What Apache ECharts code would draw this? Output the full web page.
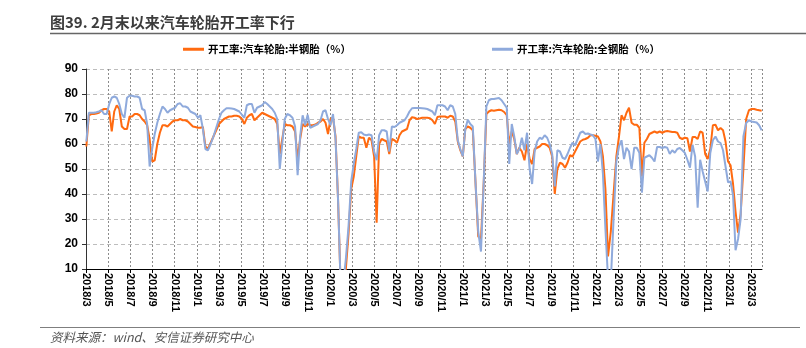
<!DOCTYPE html>
<html>
<head>
<meta charset="utf-8">
<script src="https://cdn.jsdelivr.net/npm/echarts@6/dist/echarts.min.js"></script>
<style>
  html, body { margin: 0; padding: 0; background: #ffffff; }
  #chart { width: 806px; height: 348px; }
</style>
</head>
<body>
<div id="chart"></div>
<script>
// Weekly operating rate of car tyre plants (%), one value per Friday from 2018-03-02.
const firstWeek = '2018-03-02';

// One label every two months, starting at 2018/3
const tickLabels = [
  '2018/3', '2018/5', '2018/7', '2018/9', '2018/11',
  '2019/1', '2019/3', '2019/5', '2019/7', '2019/9', '2019/11',
  '2020/1', '2020/3', '2020/5', '2020/7', '2020/9', '2020/11',
  '2021/1', '2021/3', '2021/5', '2021/7', '2021/9', '2021/11',
  '2022/1', '2022/3', '2022/5', '2022/7', '2022/9', '2022/11',
  '2023/1', '2023/3'
];

const seriesNames = ['开工率:汽车轮胎:半钢胎（%）', '开工率:汽车轮胎:全钢胎（%）'];

// Semi-steel tyres
const semi2018 = [59, 71.5, 72, 72, 72.2, 72.5, 73.5, 74, 74, 73,
  65, 73, 75.5, 74, 67, 66, 66, 71, 71, 72,
  72, 71.5, 70, 69, 67.5, 62, 53, 53.5, 60, 64.5,
  67.5, 67.5, 67, 68, 69, 69.5, 69.5, 70, 69.5, 69.5,
  69, 68, 67, 66.8];
const semi2019 = [66.5, 66.5, 66.8, 59, 58, 60.5, 63, 65.5, 68, 69,
  70, 70.5, 71, 71, 71.3, 71.3, 71, 70, 68, 70.5,
  71.5, 72, 69.5, 70.5, 71.5, 72.5, 72, 71.5, 71, 70.5,
  70, 68, 56, 62, 68, 67.5, 67.5, 67, 65, 54,
  62, 68, 67, 68, 67.5, 67.5, 67.8, 68.5, 69, 70,
  68.5, 64];
const semi2020 = [70, 70.5, 63, 38, 5, 4, 10, 24, 42, 47,
  55, 63, 62.5, 62.5, 58.5, 62.5, 61.5, 55, 28.5, 60,
  62, 61.5, 61, 56, 62, 61.5, 60.5, 63.5, 65, 65.5,
  66, 69.5, 70.7, 70.5, 70, 70.2, 70.5, 70.5, 70.5, 70.3,
  69.5, 68, 70.8, 71, 71, 71, 70.5, 71.3, 71, 69,
  61, 57.5];
const semi2021 = [55, 66, 67, 66.5, 65.5, 45, 23, 22, 45, 72,
  73, 73.5, 73.3, 73.5, 73.7, 73.5, 72.8, 71.5, 60, 65,
  62, 56, 58.5, 57, 53.5, 60, 54, 52, 58, 58.5,
  59, 60, 60, 59.5, 58.5, 55, 40, 50, 52.5, 52,
  50.5, 52.5, 55.5, 55, 57, 59, 61, 61.7, 62, 62.5,
  63.5, 63.5, 63.3];
const semi2022 = [63, 61, 55, 42, 15, 25, 40, 55, 63, 71.5,
  69.5, 72.5, 74.5, 68.5, 67.7, 67.7, 66.5, 47, 60.5, 62,
  64, 64.5, 65, 64.5, 65, 64.5, 65, 65.2, 65, 64.8,
  64.8, 64.5, 62.5, 62, 62.5, 62.3, 57, 62.8, 62.8, 62,
  65, 64.5, 56, 54, 58, 67.5, 67.7, 65.5, 66.4, 65.5,
  61, 53];
const semi2023 = [51.5, 44, 33, 24.5, 32, 50, 70, 73.5, 74, 74, 73.7, 73.5, 73.3];

// All-steel tyres
const full2018 = [61, 72.5, 72.5, 72.5, 72.7, 73, 73.5, 72, 72, 76,
  78.5, 79, 78.5, 76, 72, 70.5, 78.5, 79.3, 79.3, 79,
  79, 78.5, 74, 73.5, 68, 51, 58, 64, 68.5, 72,
  75, 74, 72.5, 73.5, 74, 74.5, 76, 76.3, 75, 75,
  74.5, 73, 72.5, 72];
const full2019 = [70.5, 71.5, 66, 58, 57.5, 60, 63, 66.5, 70, 72.5,
  73.5, 74.3, 74.3, 74.2, 74, 73.5, 73, 71.7, 70.5, 75.5,
  76, 76, 72.5, 74.5, 75, 75.5, 76.8, 76, 75, 74,
  72.5, 70, 50, 60, 70, 72, 71.5, 70.5, 67, 47.5,
  63, 71.5, 67.5, 71.7, 66.5, 67, 67.5, 68, 69.5, 73,
  73.5, 70];
const full2020 = [67.5, 72, 62, 38, 5, 4, 14, 27, 45, 52,
  58, 64.5, 64.7, 63.8, 63.5, 63.8, 63.5, 57, 53.5, 63.5,
  65.5, 65.5, 65, 57, 67, 66.8, 67.5, 68.5, 69, 69.5,
  71, 73, 74.3, 74.4, 74.4, 74.4, 74.3, 74.2, 74, 73.5,
  73, 71.5, 75.5, 75.5, 75.5, 75, 73.5, 75.5, 75, 72,
  61.5, 58];
const full2021 = [55, 66, 69.7, 68, 67, 45, 25, 17, 45, 75,
  77.5, 78, 78, 78.2, 78.4, 77.5, 76, 74.5, 52, 68,
  63, 56, 58, 62.5, 57.5, 64.5, 50, 44, 57, 61,
  62.5, 62, 63.5, 62.5, 60, 56, 43, 57.5, 57, 54.5,
  54, 56, 58.5, 60.5, 59.5, 62, 64.5, 65, 64, 64.2,
  63.8, 63.5, 62];
const full2022 = [53, 60, 48, 26, 6, 5, 30, 53, 59, 61.5,
  54, 58.5, 57, 50, 58.5, 58.5, 56.5, 40.5, 54.5, 55,
  55.5, 54.5, 53, 58.8, 58.8, 58.4, 58.8, 58.5, 56, 57.5,
  56.5, 58, 58.4, 57.5, 56.5, 53.7, 50.5, 59.7, 55, 34.5,
  53.7, 49, 45, 41, 56.4, 61.5, 63, 61, 60.4, 57.5,
  51, 44.7];
const full2023 = [45, 39.5, 17.5, 22, 30, 63, 68.4, 69.5, 69, 68.8, 68.6, 67.5, 65.5];

const semiSteel = [].concat(semi2018, semi2019, semi2020, semi2021, semi2022, semi2023);
const allSteel = [].concat(full2018, full2019, full2020, full2021, full2022, full2023);

// The x axis counts calendar months from 2018/3/1; a date falls inside its month
// in proportion to its day number.
const DAY = 86400000;
const startTime = Date.parse(firstWeek + 'T00:00:00Z');
function weekPosition(i) {
  const d = new Date(startTime + i * 7 * DAY);
  const y = d.getUTCFullYear(), m = d.getUTCMonth();
  const daysInMonth = new Date(Date.UTC(y, m + 1, 0)).getUTCDate();
  return (y - 2018) * 12 + (m - 2) + (d.getUTCDate() - 1) / daysInMonth;
}
const pairs = (values) => values.map((v, i) => [weekPosition(i), v]);

const chart = echarts.init(document.getElementById('chart'), null, { renderer: 'canvas' });

const axisFont = 'Liberation Sans, Arial, sans-serif';
const cjkFont = 'Noto Sans CJK SC, sans-serif';

const legendStyle = {
  top: 44, padding: 0,
  icon: 'rect', itemWidth: 21, itemHeight: 3, itemGap: 4,
  textStyle: { fontFamily: cjkFont, fontSize: 10.5, fontWeight: 'bold', color: '#000', padding: [0, 0, 0, -1] }
};

chart.setOption({
  animation: false,
  backgroundColor: '#ffffff',
  title: {
    text: '图39. 2月末以来汽车轮胎开工率下行',
    left: 50,
    top: 15,
    padding: 0,
    textStyle: { fontFamily: cjkFont, fontSize: 15, fontWeight: 'bold', color: '#3c3c3c' }
  },
  legend: [
    Object.assign({ data: [seriesNames[0]], left: 183 }, legendStyle),
    Object.assign({ data: [seriesNames[1]], left: 492 }, legendStyle)
  ],
  grid: { left: 86, right: 44, top: 69, height: 200, containLabel: false },
  xAxis: {
    type: 'value',
    min: 0,
    max: 61,
    interval: 2,
    axisLine: { show: true, onZero: false, lineStyle: { color: '#000', width: 1 } },
    axisTick: { show: true, length: 4, lineStyle: { color: '#000' } },
    axisLabel: {
      rotate: -90,
      margin: 4,
      showMaxLabel: false,
      fontFamily: axisFont,
      fontSize: 11,
      fontWeight: 'bold',
      color: '#000',
      formatter: (v) => tickLabels[Math.round(v / 2)] || ''
    },
    splitLine: { show: true, lineStyle: { color: '#8c8c8c', type: [2, 2], width: 1 } }
  },
  yAxis: {
    type: 'value',
    min: 10, max: 90, interval: 10,
    axisLine: { show: true, lineStyle: { color: '#333', width: 1 } },
    axisTick: { show: true, length: 4, lineStyle: { color: '#333' } },
    axisLabel: { fontFamily: axisFont, fontSize: 12, fontWeight: 'bold', color: '#000', margin: 8 },
    splitLine: { show: true, lineStyle: { color: '#bdbdbd', type: [4, 3], width: 1 } }
  },
  series: [
    {
      name: seriesNames[0],
      type: 'line',
      data: pairs(semiSteel),
      showSymbol: false,
      clip: true,
      color: '#FF6A10',
      lineStyle: { width: 2, color: '#FF6A10' }
    },
    {
      name: seriesNames[1],
      type: 'line',
      data: pairs(allSteel),
      showSymbol: false,
      clip: true,
      color: '#8FAADC',
      lineStyle: { width: 2, color: '#8FAADC' }
    }
  ],
  graphic: [
    { type: 'line', shape: { x1: 50, y1: 33.5, x2: 806, y2: 33.5 }, style: { stroke: '#666', lineWidth: 1.5 } },
    { type: 'line', shape: { x1: 40, y1: 327.5, x2: 800, y2: 327.5 }, style: { stroke: '#7f7f7f', lineWidth: 1 } },
    {
      type: 'text', left: 50, top: 331,
      style: {
        text: '资料来源：wind、安信证券研究中心',
        font: 'italic 12.5px Noto Sans CJK SC, sans-serif',
        fill: '#555'
      }
    }
  ]
});
</script>
</body>
</html>
